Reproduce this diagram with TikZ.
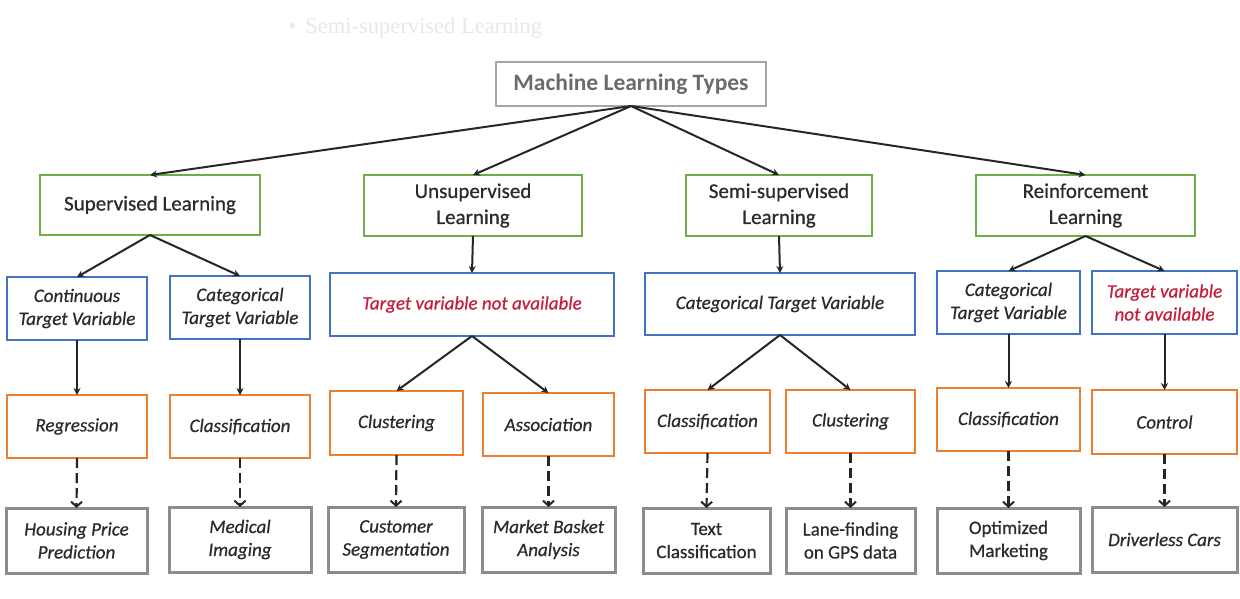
\documentclass[tikz,border=0pt]{standalone}
\usepackage{fontspec}
\setmainfont{Carlito}
\newfontfamily\bleedfont{Liberation Serif}
\newfontfamily\heavyfont{Carlito}[FakeBold=0.6]
\usetikzlibrary{arrows.meta}
\definecolor{greenc}{HTML}{70AD47}
\definecolor{bluec}{HTML}{4472C4}
\definecolor{orangec}{HTML}{ED7D31}
\definecolor{grayc}{HTML}{8C8C8C}
\definecolor{rootc}{HTML}{A6A6A6}
\definecolor{txtc}{HTML}{2B2B2B}
\definecolor{roottxt}{HTML}{6B6B6B}
\definecolor{redc}{HTML}{C41E3A}
\definecolor{bleedc}{HTML}{E8E8E8}
\begin{document}
\begin{tikzpicture}[x=1pt,y=-1pt,
  base/.style={draw, line width=2.2pt, inner sep=0pt, outer sep=0pt, align=center, text=txtc},
  sz/.style 2 args={minimum width=#1, minimum height=#2},
  rootbox/.style={base, draw=rootc, line width=1.8pt, text=roottxt, font=\fontsize{23.5}{28}\selectfont\bfseries},
  lvlA/.style={base, draw=greenc, font=\heavyfont\fontsize{21}{26}\selectfont},
  lvlB/.style={base, draw=bluec, font=\heavyfont\fontsize{19}{23}\selectfont\itshape},
  lvlC/.style={base, draw=orangec, font=\heavyfont\fontsize{19}{23}\selectfont\itshape},
  lvlD/.style={base, draw=grayc, line width=3pt, font=\heavyfont\fontsize{19}{23}\selectfont\itshape},
  upr/.style={font=\heavyfont\fontsize{19}{23}\selectfont\upshape},
  conn/.style={draw=black!85, line width=2pt, -{Stealth[length=7pt,width=7pt]}},
  dconn/.style={draw=black!85, line width=2.2pt, dash pattern=on 10pt off 5pt, -{Straight Barb[length=5pt,width=11pt,line width=2pt]}}
]
\useasboundingbox (0,0) rectangle (1240,598);
\fill[white] (0,0) rectangle (1240,598);

% faint bleed-through text
\node[anchor=west, text=bleedc, font=\bleedfont\fontsize{22.5}{26}\selectfont] (bleed) at (285,28) {\textbullet\hspace{9pt}Semi-supervised Learning};

% root
\node[rootbox, sz={270}{44}] (root) at (631,84) {Machine Learning Types};

% level 1
\node[lvlA, sz={220}{60}] (sup) at (150,205) {Supervised Learning};
\node[lvlA, sz={218}{61}] (uns) at (473,205.5) {Unsupervised\\Learning};
\node[lvlA, sz={186}{61}] (semi) at (779,205.5) {Semi-supervised\\Learning};
\node[lvlA, sz={219}{61}] (rl) at (1085.5,205.5) {Reinforcement\\Learning};

% level 2
\node[lvlB, sz={140}{63}] (cont) at (77,308.5) {Continuous\\Target Variable};
\node[lvlB, sz={140}{63}] (catA) at (240,307.5) {Categorical\\Target Variable};
\node[lvlB, sz={284}{63}, text=redc] (tnaA) at (472,304.5) {Target variable not available};
\node[lvlB, sz={270}{62}] (catB) at (780,304) {Categorical Target Variable};
\node[lvlB, sz={143}{63}] (catC) at (1008.5,302.5) {Categorical\\Target Variable};
\node[lvlB, sz={145}{63}, text=redc] (tnaB) at (1164.5,302.5) {Target variable\\not available};

% level 3
\node[lvlC, sz={140}{63}] (reg) at (77,426.5) {Regression};
\node[lvlC, sz={140}{63}] (clsA) at (240,426.5) {Classification};
\node[lvlC, sz={133}{64}] (cluA) at (396.5,423) {Clustering};
\node[lvlC, sz={131}{63}] (asc) at (548.5,424.5) {Association};
\node[lvlC, sz={125}{63}] (clsB) at (707.5,421.5) {Classification};
\node[lvlC, sz={129}{63}] (cluB) at (850.5,421.5) {Clustering};
\node[lvlC, sz={143}{63}] (clsC) at (1008.5,419.5) {Classification};
\node[lvlC, sz={145}{64}] (ctl) at (1164.5,422) {Control};

% level 4
\node[lvlD, sz={141}{65}] (hou) at (76.5,540.5) {Housing Price\\Prediction};
\node[lvlD, sz={142}{65}] (med) at (240,539.5) {Medical\\Imaging};
\node[lvlD, sz={136}{65}] (cus) at (396,539.5) {Customer\\Segmentation};
\node[lvlD, sz={133}{65}] (mkt) at (548.5,539.5) {Market Basket\\Analysis};
\node[lvlD, sz={127}{65}, upr] (txt) at (706.5,540.5) {Text\\Classification};
\node[lvlD, sz={129}{65}, upr] (lane) at (850.5,540.5) {Lane-finding\\on GPS data};
\node[lvlD, sz={143}{65}, upr] (opt) at (1008.5,540.5) {Optimized\\Marketing};
\node[lvlD, sz={145}{65}] (drv) at (1164.5,539.5) {Driverless Cars};

% connectors root -> level 1
\draw[conn] (root.south) -- (sup.north);
\draw[conn] (root.south) -- (uns.north);
\draw[conn] (root.south) -- (semi.north);
\draw[conn] (root.south) -- (rl.north);

% level 1 -> level 2
\draw[conn] (sup.south) -- (cont.north);
\draw[conn] (sup.south) -- (catA.north);
\draw[conn] (uns.south) -- (tnaA.north);
\draw[conn] (semi.south) -- (catB.north);
\draw[conn] (rl.south) -- (catC.north);
\draw[conn] (rl.south) -- (tnaB.north);

% level 2 -> level 3
\draw[conn] (cont.south) -- (reg.north);
\draw[conn] (catA.south) -- (clsA.north);
\draw[conn] (tnaA.south) -- (cluA.north);
\draw[conn] (tnaA.south) -- (asc.north);
\draw[conn] (catB.south) -- (clsB.north);
\draw[conn] (catB.south) -- (cluB.north);
\draw[conn] (catC.south) -- (clsC.north);
\draw[conn] (tnaB.south) -- (ctl.north);

% level 3 -> level 4 (dashed)
\draw[dconn] (reg.south) -- (hou.north);
\draw[dconn] (clsA.south) -- (med.north);
\draw[dconn] (cluA.south) -- (cus.north);
\draw[dconn] (asc.south) -- (mkt.north);
\draw[dconn] (clsB.south) -- (txt.north);
\draw[dconn] (cluB.south) -- (lane.north);
\draw[dconn] (clsC.south) -- (opt.north);
\draw[dconn] (ctl.south) -- (drv.north);
\end{tikzpicture}
\end{document}
